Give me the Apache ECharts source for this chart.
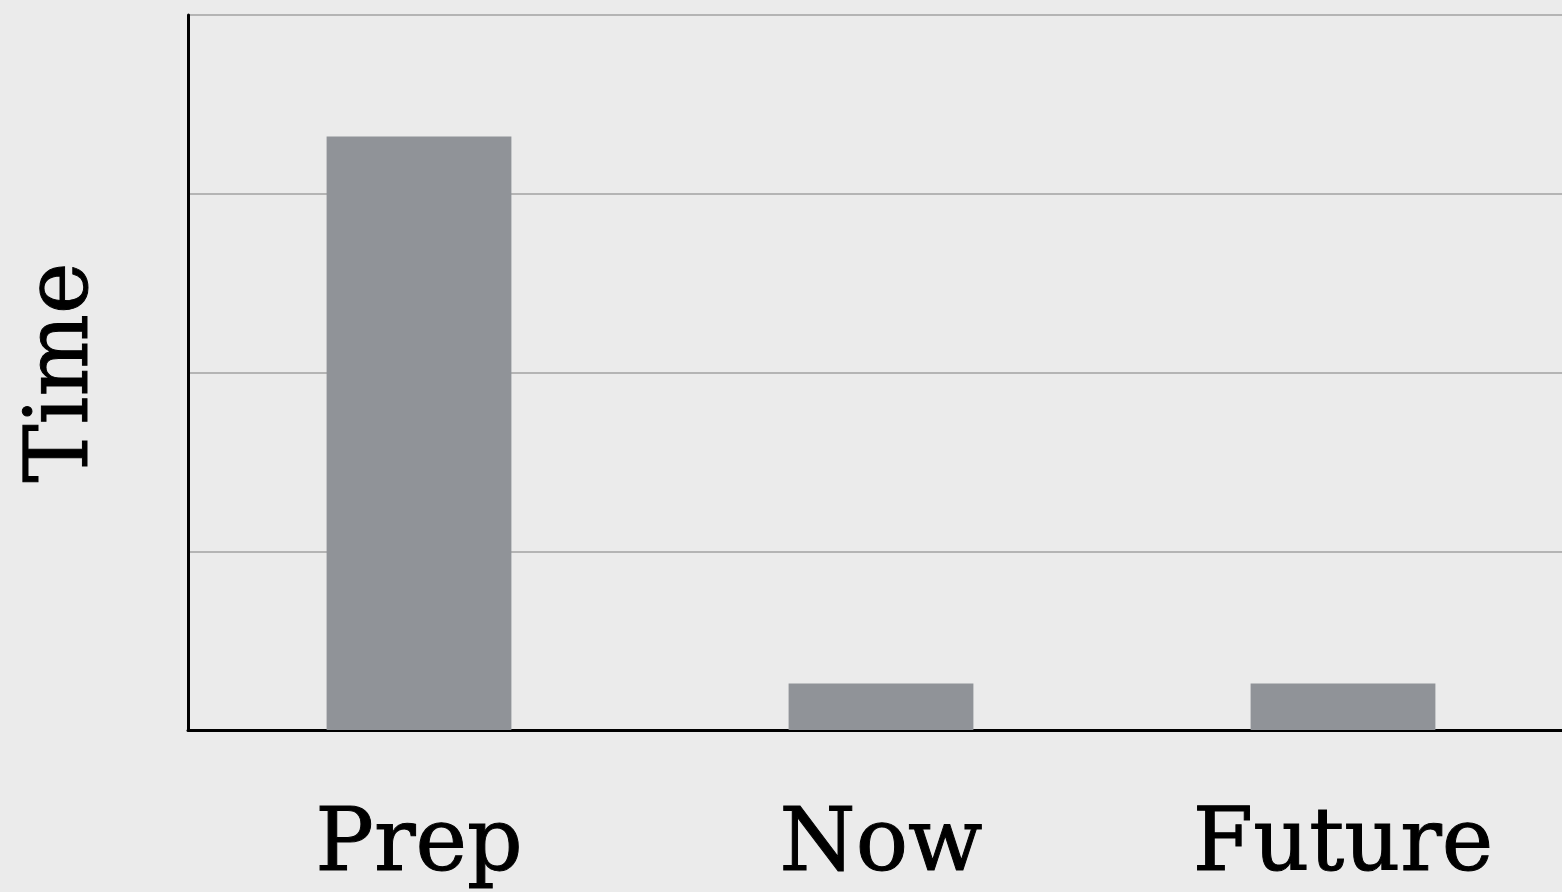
<!DOCTYPE html>
<html>
<head>
<meta charset="utf-8">
<title>Time</title>
<script src="https://cdn.jsdelivr.net/npm/echarts@6/dist/echarts.min.js"></script>
<style>
  html, body { margin: 0; padding: 0; background: #ebebeb; }
  #chart { width: 1562px; height: 892px; }
</style>
</head>
<body>
<div id="chart"></div>
<script>
// Phases on the category axis and the time spent in each
const categories = ['Prep', 'Now', 'Future'];
const timeValues = [3.32, 0.26, 0.26];

const FONT = '"DejaVu Serif", serif';
const TEXT = {
  color: '#000',
  fontFamily: FONT,
  fontSize: 87,
  lineHeight: 87,
  textBorderColor: '#000',
  textBorderWidth: 1
};

const chart = echarts.init(document.getElementById('chart'), null, { renderer: 'canvas' });

chart.setOption({
  backgroundColor: '#ebebeb',
  animation: false,
  grid: {
    left: 188,
    top: 15,
    width: 1386,
    height: 715,
    containLabel: false,
    outerBoundsMode: 'none'
  },
  xAxis: {
    type: 'category',
    data: categories,
    axisLine: { show: true, lineStyle: { color: '#000', width: 3 } },
    axisTick: { show: false },
    axisLabel: Object.assign({ margin: 74 }, TEXT),
    splitLine: { show: false }
  },
  yAxis: {
    type: 'value',
    min: 0,
    max: 4,
    interval: 1,
    name: 'Time',
    nameLocation: 'middle',
    nameGap: 124,
    nameTextStyle: Object.assign({ verticalAlign: 'middle' }, TEXT),
    axisLine: { show: true, lineStyle: { color: '#000', width: 3 } },
    axisTick: { show: false },
    axisLabel: { show: false },
    splitLine: { show: true, lineStyle: { color: '#b4b4b4', width: 2 } }
  },
  series: [{
    type: 'bar',
    data: timeValues,
    barWidth: '40%',
    itemStyle: { color: '#909398' },
    silent: true
  }]
});
</script>
</body>
</html>
